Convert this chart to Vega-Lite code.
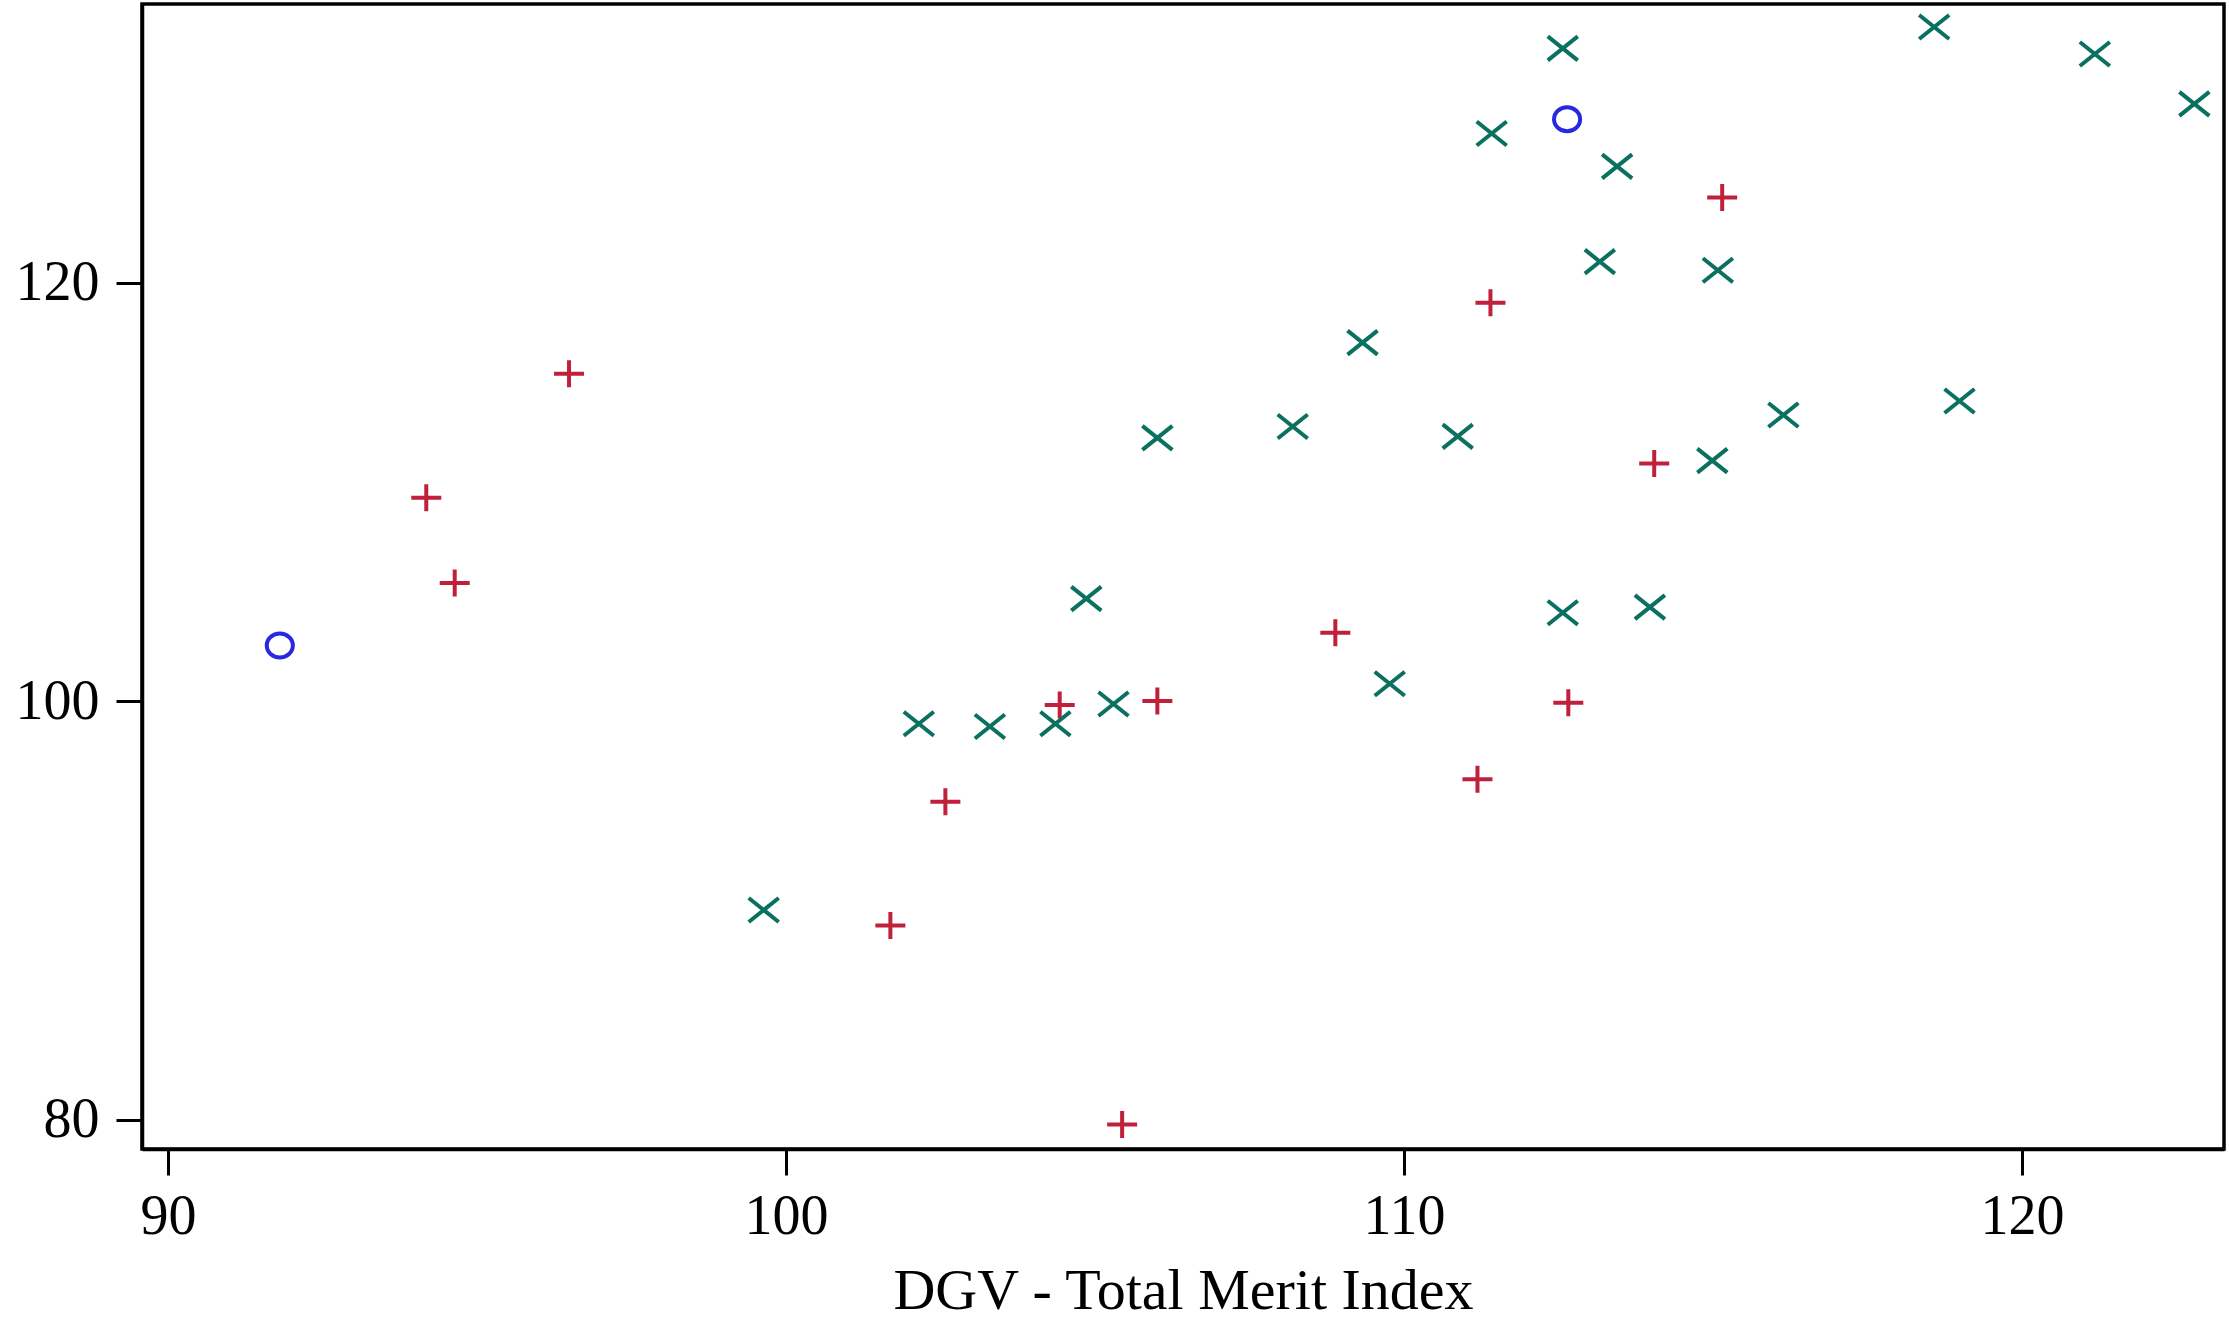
{
  "$schema": "https://vega.github.io/schema/vega-lite/v6.json",
  "width": 2082,
  "height": 1145,
  "autosize": {"type": "none"},
  "padding": {"left": 142, "top": 4, "right": 5, "bottom": 177},
  "background": "white",
  "config": {
    "view": {"stroke": "black", "strokeWidth": 3.5},
    "font": "Liberation Serif"
  },
  "data": {
    "values": [
      {"dgv": 91.81, "y": 102.67, "group": "A"},
      {"dgv": 112.64, "y": 127.81, "group": "A"},
      {"dgv": 96.49, "y": 115.65, "group": "B"},
      {"dgv": 94.18, "y": 109.73, "group": "B"},
      {"dgv": 94.64, "y": 105.66, "group": "B"},
      {"dgv": 101.69, "y": 89.29, "group": "B"},
      {"dgv": 102.58, "y": 95.2, "group": "B"},
      {"dgv": 104.43, "y": 99.82, "group": "B"},
      {"dgv": 106.01, "y": 100.02, "group": "B"},
      {"dgv": 105.44, "y": 79.78, "group": "B"},
      {"dgv": 108.89, "y": 103.28, "group": "B"},
      {"dgv": 111.4, "y": 119.04, "group": "B"},
      {"dgv": 111.19, "y": 96.28, "group": "B"},
      {"dgv": 112.66, "y": 99.93, "group": "B"},
      {"dgv": 114.05, "y": 111.37, "group": "B"},
      {"dgv": 115.15, "y": 124.07, "group": "B"},
      {"dgv": 112.57, "y": 131.2, "group": "C"},
      {"dgv": 118.58, "y": 132.22, "group": "C"},
      {"dgv": 121.18, "y": 130.93, "group": "C"},
      {"dgv": 122.79, "y": 128.55, "group": "C"},
      {"dgv": 111.42, "y": 127.13, "group": "C"},
      {"dgv": 113.45, "y": 125.56, "group": "C"},
      {"dgv": 113.17, "y": 121.01, "group": "C"},
      {"dgv": 115.08, "y": 120.6, "group": "C"},
      {"dgv": 109.33, "y": 117.14, "group": "C"},
      {"dgv": 106.01, "y": 112.59, "group": "C"},
      {"dgv": 108.2, "y": 113.13, "group": "C"},
      {"dgv": 110.87, "y": 112.66, "group": "C"},
      {"dgv": 116.14, "y": 113.68, "group": "C"},
      {"dgv": 118.99, "y": 114.35, "group": "C"},
      {"dgv": 114.99, "y": 111.5, "group": "C"},
      {"dgv": 104.86, "y": 104.91, "group": "C"},
      {"dgv": 112.57, "y": 104.23, "group": "C"},
      {"dgv": 113.98, "y": 104.5, "group": "C"},
      {"dgv": 109.77, "y": 100.84, "group": "C"},
      {"dgv": 105.3, "y": 99.87, "group": "C"},
      {"dgv": 102.15, "y": 98.93, "group": "C"},
      {"dgv": 103.3, "y": 98.8, "group": "C"},
      {"dgv": 104.36, "y": 98.93, "group": "C"},
      {"dgv": 99.64, "y": 90.03, "group": "C"}
    ]
  },
  "mark": {"type": "point", "filled": false, "strokeWidth": 4, "opacity": 1, "size": 900},
  "encoding": {
    "x": {
      "field": "dgv",
      "type": "quantitative",
      "scale": {"domain": [89.58, 123.27], "nice": false, "zero": false},
      "axis": {
        "title": "DGV - Total Merit Index",
        "values": [90, 100, 110, 120],
        "grid": false,
        "domainColor": "black",
        "domainWidth": 3.5,
        "tickColor": "black",
        "tickWidth": 3,
        "tickSize": 26,
        "labelFont": "Liberation Serif",
        "labelFontSize": 56,
        "labelColor": "black",
        "labelPadding": 14,
        "titleFont": "Liberation Serif",
        "titleFontSize": 58,
        "titleFontWeight": "normal",
        "titleColor": "black",
        "titlePadding": 18
      }
    },
    "y": {
      "field": "y",
      "type": "quantitative",
      "scale": {"domain": [78.61, 133.32], "nice": false, "zero": false},
      "axis": {
        "title": null,
        "values": [80, 100, 120],
        "grid": false,
        "domainColor": "black",
        "domainWidth": 3.5,
        "tickColor": "black",
        "tickWidth": 3,
        "tickSize": 26,
        "labelFont": "Liberation Serif",
        "labelFontSize": 56,
        "labelColor": "black",
        "labelPadding": 17
      }
    },
    "color": {
      "field": "group",
      "type": "nominal",
      "scale": {"domain": ["A", "B", "C"], "range": ["#2828E0", "#C0203C", "#0A7060"]},
      "legend": null
    },
    "shape": {
      "field": "group",
      "type": "nominal",
      "scale": {
        "domain": ["A", "B", "C"],
        "range": [
          "M-0.87,0A0.87,0.8,0,1,0,0.87,0A0.87,0.8,0,1,0,-0.87,0Z",
          "M-1,0L1,0M0,-0.9L0,0.9",
          "M-1,-0.8L1,0.8M-1,0.8L1,-0.8"
        ]
      },
      "legend": null
    }
  }
}
